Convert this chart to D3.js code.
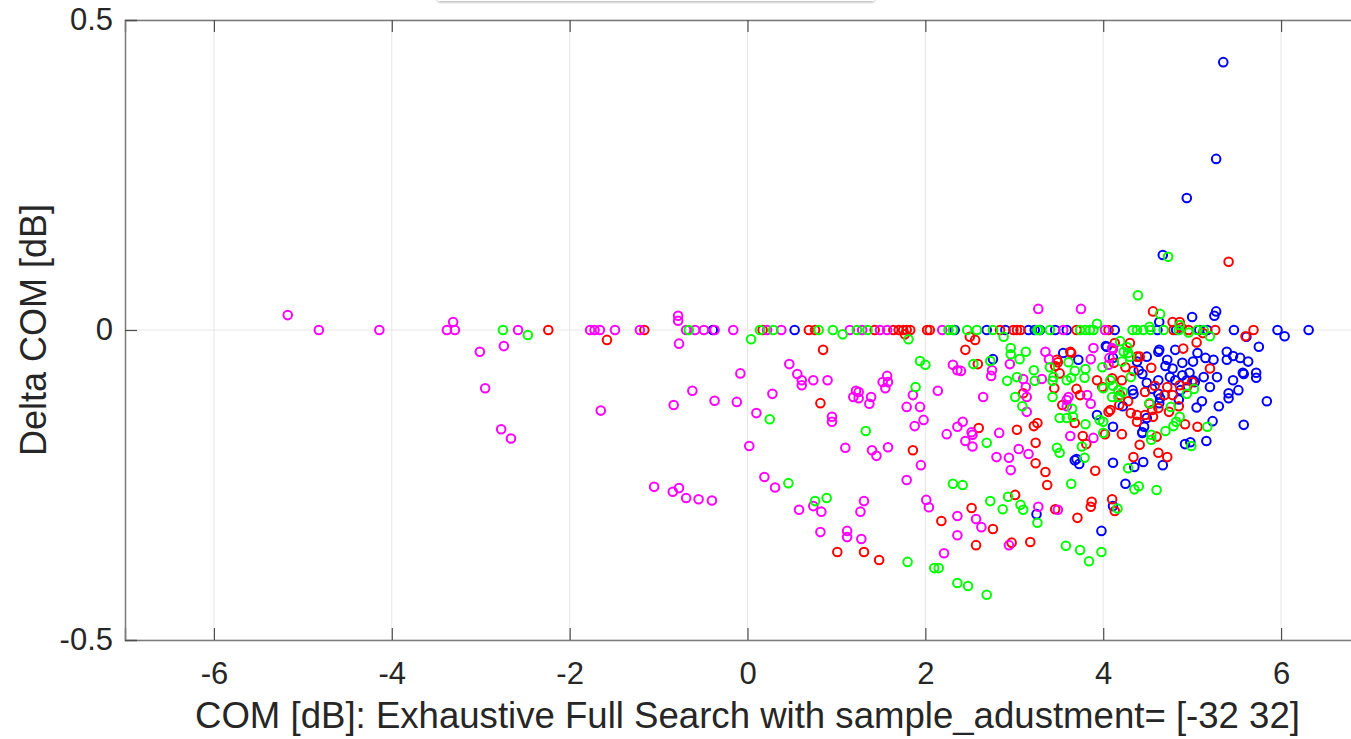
<!DOCTYPE html>
<html>
<head>
<meta charset="utf-8">
<script src="https://cdn.jsdelivr.net/npm/d3@7"></script>
<style>
  body { margin: 0; background: #fff; overflow: hidden; }
  text { font-family: "Liberation Sans", Arial, sans-serif; fill: #262626; }
</style>
</head>
<body>
<svg id="chart" width="1351" height="739"></svg>
<script>
// x = COM [dB], y = Delta COM [dB]
const magentaPts = [
  [-5.17,0.024],[-4.82,0],[-4.14,0],[-3.38,0],[-3.31,0.013],[-3.29,0],[-3.01,-0.035],[-2.74,-0.026],[-2.95,-0.094],[-2.77,-0.16],[-2.66,-0.175],[-2.58,0],
  [-1.77,0],[-1.72,0],[-1.66,0],[-1.49,0],[-1.21,0],[-0.78,0.023],[-0.78,0.015],[-0.77,-0.022],[-0.69,0],[-0.59,0],[-0.49,0],[-0.37,0],[-0.16,0],
  [-1.65,-0.13],[-0.83,-0.121],[-0.62,-0.098],[-0.37,-0.114],[-0.12,-0.116],[-0.08,-0.07],[0.10,-0.134],[0.02,-0.187],[0.28,-0.103],
  [-1.05,-0.253],[-0.84,-0.261],[-0.77,-0.255],[-0.69,-0.271],[-0.55,-0.273],[-0.40,-0.275],[0.19,-0.237],[0.31,-0.254],
  [0.22,0],[0.38,0],[1.15,0],[1.29,0],[1.49,0],[1.57,0],[2.19,0],
  [0.47,-0.055],[0.56,-0.071],[0.61,-0.081],[0.61,-0.089],[0.74,-0.081],[0.90,-0.081],[0.95,-0.14],[0.95,-0.148],
  [1.19,-0.108],[1.22,-0.098],[1.25,-0.10],[1.25,-0.11],[1.39,-0.108],[1.37,-0.119],[1.52,-0.084],[1.57,-0.074],[1.58,-0.084],[1.55,-0.094],
  [1.10,-0.19],[1.40,-0.194],[1.45,-0.203],[1.58,-0.189],[1.95,-0.218],[1.79,-0.242],[1.86,-0.105],[1.79,-0.124],[1.94,-0.124],[1.88,-0.155],[1.98,-0.145],
  [2.14,-0.098],[2.24,-0.168],[2.36,-0.156],[2.31,-0.056],[2.36,-0.065],[2.40,-0.066],[2.36,-0.30],[2.01,-0.274],[2.04,-0.286],
  [0.74,-0.284],[0.58,-0.29],[0.83,-0.293],[1.31,-0.276],[1.27,-0.293],[0.82,-0.326],[1.12,-0.324],[1.12,-0.334],[1.28,-0.337],[2.21,-0.36],[2.36,-0.331],
  [3.27,0.034],[3.75,0.034],[3.55,0],[4.02,0],
  [2.95,-0.055],[2.75,-0.065],[2.74,-0.074],[3.10,-0.079],[3.13,-0.092],[3.35,-0.035],[3.39,-0.047],[3.31,-0.079],[3.89,-0.029],[3.86,-0.047],
  [3.14,-0.108],[2.65,-0.108],[3.14,-0.132],[3.61,-0.108],[3.59,-0.123],[3.82,-0.105],[3.86,-0.119],
  [2.42,-0.148],[2.52,-0.165],[2.53,-0.169],[2.45,-0.179],[2.53,-0.188],
  [2.83,-0.166],[2.80,-0.205],[2.94,-0.206],[3.05,-0.192],[3.16,-0.2],[2.96,-0.226],
  [3.27,-0.285],[3.49,-0.29],[2.57,-0.305],[2.63,-0.318],[2.94,-0.347],
  [4.11,-0.031],[4.06,-0.056],[4.10,-0.029],[4.07,-0.045],[3.59,-0.113],[3.63,-0.171],[3.89,-0.174]
];
const greenPts = [
  [-2.75,0],[-2.47,-0.008],[-0.66,0],[0.04,-0.015],[0.25,-0.144],[0.46,-0.247],
  [0.14,0],[0.29,0],[0.80,0],[0.96,0],[1.07,-0.007],[1.23,0],[1.35,0],[1.81,-0.015],[2.26,0],[2.31,0],
  [1.33,-0.163],[1.89,-0.092],[1.94,-0.05],[2.0,-0.056],[2.31,-0.248],[0.76,-0.276],[0.89,-0.271],[1.80,-0.374],[2.10,-0.384],[2.15,-0.384],[2.36,-0.408],
  [2.47,0],[2.58,0],[2.76,0],[3.26,0],[3.28,0],[3.40,0],[3.74,0],[3.80,0],[3.85,0],[3.89,0],[4.33,0],[4.38,0],[4.53,0],[4.68,0],[4.85,0],[5.06,0],[5.13,0],
  [4.39,0.056],[4.64,0.026],[3.93,0.01],[4.86,0.008],[4.52,0.005],[4.73,0.118],
  [2.88,-0.011],[2.73,-0.05],[2.96,-0.029],[2.96,-0.039],[3.13,-0.035],[3.06,-0.047],[2.54,-0.055],[2.92,-0.082],[3.03,-0.076],[3.22,-0.065],[3.23,-0.082],
  [3.61,-0.052],[3.68,-0.066],[3.80,-0.063],[3.79,-0.077],[3.40,-0.06],[3.44,-0.076],[3.43,-0.082],[3.59,-0.081],[3.64,-0.077],[3.01,-0.108],[3.09,-0.123],
  [3.43,-0.108],[3.65,-0.127],[3.66,-0.14],[3.51,-0.142],[3.59,-0.142],[3.80,-0.152],[2.69,-0.182],[3.48,-0.19],[3.51,-0.198],[3.64,-0.248],[3.79,-0.206],
  [2.42,-0.25],[2.93,-0.269],[2.73,-0.276],[2.87,-0.289],[3.07,-0.282],[3.10,-0.29],[3.26,-0.311],[4.16,-0.288],[3.58,-0.348],[3.74,-0.355],[3.84,-0.373],
  [3.98,-0.358],[2.48,-0.413],[2.69,-0.427],
  [4.23,-0.035],[4.28,-0.037],[4.30,-0.043],[3.99,-0.06],[4.21,-0.051],[4.31,-0.076],[4.08,-0.081],[4.0,-0.094],[4.11,-0.09],[4.17,-0.097],[4.22,-0.10],
  [4.10,-0.108],[4.17,-0.108],[3.96,-0.145],[4.0,-0.148],[4.0,-0.166],[4.54,-0.169],[4.54,-0.177],[4.52,-0.118],[4.76,-0.124],[4.86,-0.14],[4.94,-0.103],
  [4.99,-0.187],[5.17,-0.156],[4.79,-0.155],[4.82,-0.148],[4.70,-0.163],[4.28,-0.223],[4.35,-0.257],[4.40,-0.252],[4.60,-0.258],[3.76,-0.188],
  [4.45,0],[4.96,-0.004],[5.20,-0.01],[4.19,-0.018],[4.27,-0.028],[5.02,-0.095]
];
const redPts = [
  [-2.24,0],[-1.58,-0.016],[-1.16,0],[0.17,0],[0.69,0],[0.76,0],[1.43,0],[1.64,0],[1.70,0],[1.75,0],[1.79,0],[1.83,0],[1.77,-0.007],[2.02,0],[2.05,0],
  [0.85,-0.032],[0.82,-0.118],[1.86,-0.194],[2.18,-0.308],[1.01,-0.358],[1.31,-0.358],[1.48,-0.371],
  [2.84,0],[2.99,0],[3.03,0],[3.07,0],[3.70,0],[4.06,0],[4.79,0],[4.96,0],[5.26,0],[5.69,0],[5.6,-0.01],
  [4.56,0.03],[4.78,0.013],[4.86,0.013],[5.41,0.11],
  [2.50,-0.011],[2.56,-0.016],[2.45,-0.032],[2.59,-0.055],[3.48,-0.048],[3.51,-0.07],[3.46,-0.058],[3.64,-0.037],[3.45,-0.094],[3.10,-0.102],[3.54,-0.121],
  [3.70,-0.095],[3.74,-0.105],[3.68,-0.15],[3.26,-0.15],[3.22,-0.155],[3.03,-0.161],[3.24,-0.182],[2.60,-0.158],[3.24,-0.215],[3.35,-0.229],[3.37,-0.25],
  [3.91,-0.227],[3.01,-0.266],[2.52,-0.287],[3.46,-0.289],[3.71,-0.303],[3.87,-0.277],[3.86,-0.285],[4.10,-0.273],[4.13,-0.292],[2.76,-0.321],[2.57,-0.347],
  [2.97,-0.343],[3.18,-0.342],[3.49,-0.052],[3.63,-0.035],
  [4.13,-0.021],[4.30,-0.021],[4.38,-0.043],[4.41,-0.043],[4.12,-0.053],[4.25,-0.06],[4.34,-0.066],[4.54,-0.061],[4.21,-0.081],[4.10,-0.078],[3.93,-0.081],
  [3.99,-0.092],[4.19,-0.105],[4.06,-0.132],[4.02,-0.168],[4.21,-0.168],[4.18,-0.121],[4.08,-0.129],[4.31,-0.134],[4.38,-0.137],[4.47,-0.137],[4.38,-0.148],
  [4.55,-0.129],[4.56,-0.14],[4.60,-0.172],[4.52,-0.119],[4.62,-0.126],[4.69,-0.105],[4.74,-0.132],[4.85,-0.123],[4.72,-0.092],[4.86,-0.089],[4.94,-0.092],
  [4.78,-0.105],[5.0,-0.084],[4.92,-0.152],[5.06,-0.156],[4.41,-0.185],[4.62,-0.198],[4.72,-0.205],[4.34,-0.205],[3.77,-0.171],[3.81,-0.184],
  [4.88,0.004],[5.12,-0.005],[5.05,-0.02],[4.90,-0.03],[5.20,-0.062],[4.58,-0.09],[4.47,-0.1],[4.28,-0.115]
];
const bluePts = [
  [-0.39,0],[0.53,0],
  [2.33,0],[2.69,0],[2.90,0],[3.16,0],[3.29,0],[3.46,0],[3.59,0],[4.13,0],[4.61,0],[5.17,0],[5.47,0],[5.96,0],[6.04,-0.01],[6.31,0],[3.23,0],
  [5.0,0.021],[5.27,0.03],[5.25,0.023],[4.63,0.013],[5.35,0.432],[5.27,0.276],[4.94,0.213],[4.67,0.121],
  [2.76,-0.047],[3.55,-0.037],[3.72,-0.048],[3.68,-0.21],[3.73,-0.216],[3.25,-0.297],[4.11,-0.284],[3.98,-0.324],
  [4.03,-0.026],[4.11,-0.045],[4.38,-0.051],[4.49,-0.043],[4.40,-0.065],[4.49,-0.085],[4.33,-0.097],[4.34,-0.103],[3.93,-0.137],[4.11,-0.156],[4.22,-0.123],
  [4.46,-0.156],[4.44,-0.166],[4.49,-0.142],[4.63,-0.118],[4.64,-0.11],[4.62,-0.103],[4.75,-0.076],[4.81,-0.081],[4.89,-0.073],[4.94,-0.081],[5.03,-0.084],
  [5.11,-0.115],[5.30,-0.123],[5.41,-0.102],[5.41,-0.11],[5.52,-0.097],[5.46,-0.081],[5.58,-0.071],[5.72,-0.069],[5.72,-0.077],[5.84,-0.115],[5.58,-0.153],
  [5.23,-0.147],[5.16,-0.179],[4.92,-0.184],[4.98,-0.181],[4.67,-0.218],[4.45,-0.213],[4.35,-0.221],[4.11,-0.214],[4.25,-0.248],
  [5.61,-0.011],[5.75,-0.027],[4.63,-0.032],[4.81,-0.032],[4.72,-0.048],[4.89,-0.053],[5.06,-0.037],[5.15,-0.045],[5.24,-0.048],[5.39,-0.035],[5.46,-0.042],
  [5.54,-0.045],[5.63,-0.051],[5.57,-0.069],[5.39,-0.048],[4.97,-0.069],[5.01,-0.081],[5.13,-0.076],[5.28,-0.076],[4.62,-0.081],[4.87,-0.097],[4.04,-0.027],
  [4.44,-0.071],[4.62,-0.035],[5.01,-0.051],[4.44,-0.165],[3.70,-0.208],
  [4.82,0],[5.08,0],[4.70,-0.058],[4.78,-0.062],[5.20,-0.092],[4.55,-0.095],[4.85,-0.112],[5.05,-0.125]
];

const xTicks = [-6, -4, -2, 0, 2, 4, 6];
const yTicks = [-0.5, 0, 0.5];
const xLabel = "COM [dB]: Exhaustive Full Search with sample_adustment= [-32 32]";
const yLabel = "Delta COM [dB]";

// draw order: later series end up on top
const series = [
  { pts: bluePts, color: "#0000ff" },
  { pts: redPts, color: "#ff0000" },
  { pts: magentaPts, color: "#ff00ff" },
  { pts: greenPts, color: "#00ff00" }
];

const svg = d3.select("#chart");
const mLeft = 125, mRight = 1370, mTop = 20, mBottom = 640;

const x = d3.scaleLinear().domain([-7, 7]).range([mLeft, mRight]);
const y = d3.scaleLinear().domain([-0.5, 0.5]).range([mBottom, mTop]);

// plain hyphen for negatives, like matlab
const fmt = d => (d < 0 ? "-" : "") + (Number.isInteger(d) ? Math.abs(d) : Math.abs(d).toFixed(1));

// shadow of the box cut off at the top edge
const defs = svg.append("defs");
const f = defs.append("filter").attr("id", "shadow").attr("x", "-10%").attr("y", "-50%").attr("width", "120%").attr("height", "200%");
f.append("feDropShadow").attr("dx", 0).attr("dy", 1).attr("stdDeviation", 1.5).attr("flood-color", "#000").attr("flood-opacity", 0.35);
svg.append("rect").attr("x", 438).attr("y", -20).attr("width", 436).attr("height", 21)
  .attr("fill", "#fff").attr("filter", "url(#shadow)");

// grid
const grid = svg.append("g").attr("class", "grid");
grid.selectAll(".vx").data(xTicks).enter().append("line")
  .attr("x1", d => x(d)).attr("x2", d => x(d)).attr("y1", mTop).attr("y2", mBottom)
  .attr("stroke", "#e6e6e6").attr("stroke-width", 1);
grid.selectAll(".hy").data(yTicks).enter().append("line")
  .attr("x1", mLeft).attr("x2", mRight).attr("y1", d => y(d)).attr("y2", d => y(d))
  .attr("stroke", "#e6e6e6").attr("stroke-width", 1);

// points
const plot = svg.append("g");
series.forEach(s => {
  plot.append("g").selectAll("circle").data(s.pts).enter().append("circle")
    .attr("cx", d => x(d[0])).attr("cy", d => y(d[1]))
    .attr("r", 4.3).attr("fill", "none")
    .attr("stroke", s.color).attr("stroke-width", 2);
});

// axes, ticks pointing inward like matlab
const xAxis = svg.append("g").attr("transform", `translate(0,${mBottom})`)
  .call(d3.axisBottom(x).tickValues(xTicks).tickSize(-12).tickPadding(22).tickFormat(fmt));
const xTop = svg.append("g").attr("transform", `translate(0,${mTop})`)
  .call(d3.axisTop(x).tickValues(xTicks).tickSize(-12).tickFormat(""));
const yAxis = svg.append("g").attr("transform", `translate(${mLeft},0)`)
  .call(d3.axisLeft(y).tickValues(yTicks).tickSize(-12).tickPadding(12).tickFormat(fmt));

[xAxis, xTop, yAxis].forEach(a => {
  a.select(".domain").attr("stroke", "#7a7a7a").attr("stroke-width", 1.5);
  a.selectAll(".tick line").attr("stroke", "#4d4d4d").attr("stroke-width", 1.2);
  a.selectAll("text").style("font-size", "31px").attr("fill", "#262626");
});

svg.append("text").attr("x", x(0)).attr("y", 728)
  .attr("text-anchor", "middle").style("font-size", "36.6px").text(xLabel);

svg.append("text").attr("transform", `translate(46,${(mTop + mBottom) / 2}) rotate(-90)`)
  .attr("text-anchor", "middle").style("font-size", "36px").text(yLabel);
</script>
</body>
</html>
